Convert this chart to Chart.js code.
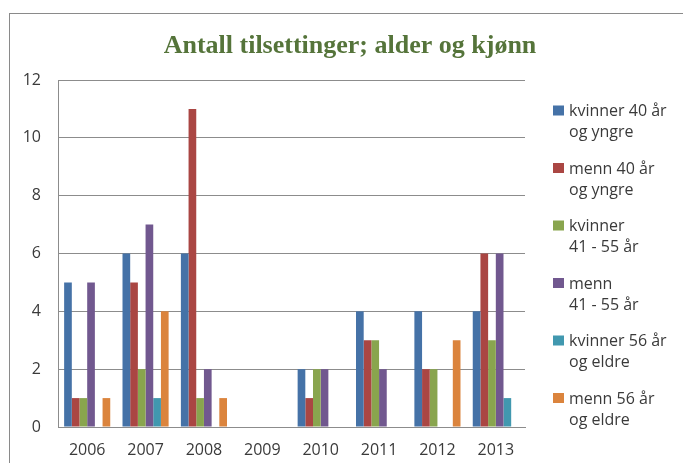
<!DOCTYPE html>
<html>
<head>
<meta charset="utf-8">
<script src="https://cdn.jsdelivr.net/npm/chart.js@4"></script>
<style>
  html, body { margin: 0; padding: 0; background: #fff; }
  #wrap { position: relative; width: 683px; height: 463px; }
</style>
</head>
<body>
<div id="wrap"><canvas id="chart"></canvas></div>
<script>
// Data
const years = ["2006", "2007", "2008", "2009", "2010", "2011", "2012", "2013"];
const kvinner40 = [5, 6, 6, 0, 2, 4, 4, 4];
const menn40 = [1, 5, 11, 0, 1, 3, 2, 6];
const kvinner41 = [1, 2, 1, 0, 2, 3, 2, 3];
const menn41 = [5, 7, 2, 0, 2, 2, 0, 6];
const kvinner56 = [0, 1, 0, 0, 0, 0, 0, 1];
const menn56 = [1, 4, 1, 0, 0, 0, 3, 0];

const seriesLabels = [
  ["kvinner 40 år", "og yngre"],
  ["menn 40 år", "og yngre"],
  ["kvinner", "41 - 55 år"],
  ["menn", "41 - 55 år"],
  ["kvinner 56 år", "og eldre"],
  ["menn 56 år", "og eldre"]
];
const seriesValues = [kvinner40, menn40, kvinner41, menn41, kvinner56, menn56];
const colors = ["#4572A7", "#AA4643", "#89A54E", "#71588F", "#4198AF", "#DB843D"];

const titleText = "Antall tilsettinger; alder og kjønn";
const textColor = "#3a3a3a";
const gridColor = "#8c8c8c";

// Frame, title and two-line legend
const decor = {
  id: "decor",
  beforeDraw(chart) {
    const ctx = chart.ctx;
    ctx.save();
    ctx.strokeStyle = "#8a8a8a";
    ctx.lineWidth = 1;
    ctx.strokeRect(9.5, 13.5, 800, 600);
    ctx.restore();
  },
  afterDraw(chart) {
    const ctx = chart.ctx;
    ctx.save();
    ctx.fillStyle = "#55743a";
    ctx.font = "bold 26px 'Liberation Serif'";
    ctx.textAlign = "center";
    ctx.textBaseline = "alphabetic";
    ctx.fillText(titleText, 350, 53);

    ctx.font = "16px 'Open Sans'";
    ctx.textAlign = "left";
    ctx.textBaseline = "middle";
    seriesLabels.forEach((lines, i) => {
      const y = 111.5 + i * 57.5;
      ctx.fillStyle = colors[i];
      ctx.fillRect(553, y - 6, 11, 10);
      ctx.fillStyle = textColor;
      lines.forEach((line, j) => {
        ctx.fillText(line, 569, y + j * 21);
      });
    });
    ctx.restore();
  }
};

new Chart(document.getElementById("chart"), {
  type: "bar",
  data: {
    labels: years,
    datasets: seriesValues.map((vals, i) => ({
      label: seriesLabels[i].join(" "),
      data: vals,
      backgroundColor: colors[i],
      borderWidth: 0,
      categoryPercentage: 0.79,
      barPercentage: 1
    }))
  },
  options: {
    responsive: true,
    maintainAspectRatio: false,
    animation: false,
    layout: {
      padding: { top: 80, right: 158, bottom: 5, left: 0 }
    },
    plugins: {
      legend: { display: false },
      title: { display: false },
      tooltip: { enabled: false }
    },
    scales: {
      x: {
        afterFit(scale) { scale.height = 31; },
        grid: { display: false, drawTicks: false },
        border: { color: gridColor, width: 1 },
        ticks: {
          color: textColor,
          font: { family: "Open Sans", size: 16 },
          padding: 14,
          maxRotation: 0
        }
      },
      y: {
        min: 0,
        max: 12,
        afterFit(scale) { scale.width = 58; },
        grid: { color: gridColor, lineWidth: 1, drawTicks: false },
        border: { color: gridColor, width: 1 },
        ticks: {
          stepSize: 2,
          color: textColor,
          font: { family: "Open Sans", size: 16 },
          padding: 17
        }
      }
    }
  },
  plugins: [decor]
});
</script>
</body>
</html>
